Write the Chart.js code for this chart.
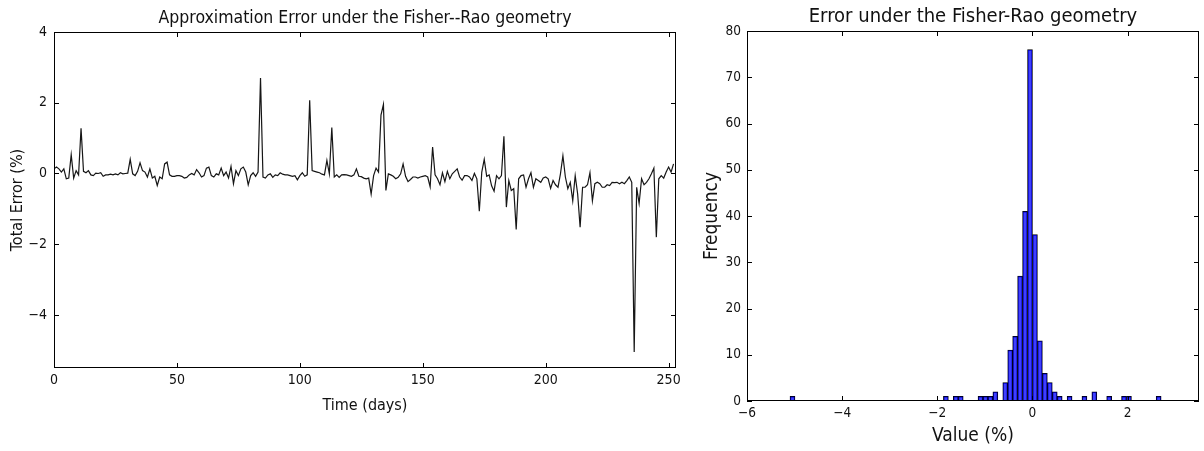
<!DOCTYPE html>
<html>
<head>
<meta charset="utf-8">
<script src="https://cdn.jsdelivr.net/npm/chart.js@4.4.1/dist/chart.umd.min.js"></script>
<style>
  body { margin: 0; background: #fff; }
  #wrap { position: relative; width: 1204px; height: 451px; }
  canvas { position: absolute; top: 0; }
  #lineChart { left: 0; }
  #histChart { left: 690px; }
</style>
</head>
<body>
<div id="wrap">
  <canvas id="lineChart" width="690" height="451"></canvas>
  <canvas id="histChart" width="514" height="451"></canvas>
</div>
<script>
// total error per day (%), days 0..252
const errorSeries = [
  0.13, 0.18, 0.13, 0.04, 0.13, -0.15, -0.13, 0.53, -0.13, 0.08,
  -0.04, 1.28, 0.06, 0.02, 0.08, -0.04, -0.06, 0.01, 0.00, 0.02,
  -0.08, -0.04, -0.04, -0.02, -0.04, -0.01, -0.04, 0.02, -0.01, 0.00,
  0.01, 0.40, -0.01, -0.06, 0.06, 0.30, 0.08, 0.04, -0.10, 0.13,
  -0.13, -0.08, -0.34, -0.10, -0.15, 0.27, 0.32, -0.04, -0.08, -0.08,
  -0.06, -0.06, -0.08, -0.13, -0.11, -0.04, 0.00, -0.04, 0.11, 0.02,
  -0.10, -0.06, 0.15, 0.18, -0.06, -0.10, -0.01, -0.04, 0.15, -0.06,
  0.04, -0.13, 0.20, -0.29, 0.08, -0.06, 0.13, 0.18, 0.04, -0.32,
  -0.06, 0.02, -0.08, 0.04, 2.70, -0.10, -0.13, -0.04, -0.01, -0.11,
  -0.04, -0.06, 0.02, -0.02, -0.04, -0.04, -0.06, -0.08, -0.06, -0.18,
  -0.06, 0.02, -0.08, -0.04, 2.07, 0.08, 0.06, 0.04, 0.02, -0.02,
  -0.04, 0.37, -0.01, 1.30, -0.10, -0.04, -0.11, -0.04, -0.03, -0.04,
  -0.06, -0.08, -0.04, 0.13, -0.08, -0.09, -0.13, -0.15, -0.13, -0.58,
  -0.06, 0.15, 0.04, 1.65, 1.95, -0.48, -0.01, -0.04, -0.08, -0.15,
  -0.11, -0.01, 0.27, -0.08, -0.23, -0.17, -0.10, -0.10, -0.13, -0.10,
  -0.08, -0.06, -0.10, -0.38, 0.75, -0.04, -0.15, -0.32, 0.02, -0.23,
  0.06, -0.15, -0.01, 0.06, 0.13, -0.10, -0.19, -0.06, -0.06, -0.10,
  -0.20, 0.00, -0.15, -1.07, 0.04, 0.40, -0.08, -0.04, -0.35, -0.50,
  -0.06, -0.15, -0.06, 1.05, -0.95, -0.20, -0.48, -0.43, -1.58, -0.15,
  -0.06, -0.04, -0.39, -0.15, 0.02, -0.39, -0.15, -0.20, -0.25, -0.13,
  -0.10, -0.15, -0.42, -0.20, -0.32, -0.39, -0.01, 0.50, -0.10, -0.43,
  -0.25, -0.77, -0.06, -0.58, -1.52, -0.39, -0.39, -0.32, 0.02, -0.77,
  -0.29, -0.25, -0.29, -0.39, -0.39, -0.32, -0.34, -0.25, -0.26, -0.25,
  -0.29, -0.25, -0.29, -0.20, -0.10, -0.25, -5.05, -0.39, -0.85, -0.15,
  -0.32, -0.25, -0.15, -0.01, 0.15, -1.80, -0.15, -0.06, -0.13, 0.04,
  0.18, 0.04, 0.27
];
const dayTicks = [0, 50, 100, 150, 200, 250];
const errorTicks = [-4, -2, 0, 2, 4];

// histogram: left edge of each non-empty bin, and its count
const binWidth = 0.104;
const binStart = [
  -5.096, -1.872, -1.664, -1.560, -1.144, -1.040, -0.936, -0.832, -0.624, -0.520,
  -0.416, -0.312, -0.208, -0.104, 0.000, 0.104, 0.208, 0.312, 0.416, 0.520,
  0.728, 1.040, 1.248, 1.560, 1.872, 1.976, 2.600
];
const binCount = [
  1, 1, 1, 1, 1, 1, 1, 2, 4, 11,
  14, 27, 41, 76, 36, 13, 6, 4, 2, 1,
  1, 1, 2, 1, 1, 1, 1
];
const valueTicks = [-6, -4, -2, 0, 2];
const freqTicks = [0, 10, 20, 30, 40, 50, 60, 70, 80];

const FONT = "'DejaVu Sans Condensed', 'DejaVu Sans', sans-serif";
const INK = '#111';
const minus = v => String(v).replace('-', '\u2212');

// frame, inward ticks on all four sides, and the title
const framePlugin = {
  id: 'frame',
  afterDraw(chart, args, opts) {
    const { ctx, chartArea: a, scales: { x, y } } = chart;
    ctx.save();
    ctx.strokeStyle = '#000';
    ctx.lineWidth = 1;
    ctx.strokeRect(Math.round(a.left) + 0.5, Math.round(a.top) + 0.5,
      Math.round(a.right - a.left) - 1, Math.round(a.bottom - a.top) - 1);
    ctx.beginPath();
    x.ticks.forEach(t => {
      const px = Math.round(x.getPixelForValue(t.value)) + 0.5;
      ctx.moveTo(px, a.bottom); ctx.lineTo(px, a.bottom - opts.len);
      ctx.moveTo(px, a.top); ctx.lineTo(px, a.top + opts.len);
    });
    y.ticks.forEach(t => {
      const py = Math.round(y.getPixelForValue(t.value)) + 0.5;
      ctx.moveTo(a.left, py); ctx.lineTo(a.left + opts.len, py);
      ctx.moveTo(a.right, py); ctx.lineTo(a.right - opts.len, py);
    });
    ctx.stroke();
    ctx.fillStyle = INK;
    ctx.font = opts.titleSize + 'px ' + FONT;
    ctx.textAlign = 'center';
    ctx.textBaseline = 'middle';
    ctx.fillText(opts.title, (a.left + a.right) / 2, opts.titleY);
    ctx.restore();
  }
};

function axis(min, max, ticks, size, tickSize, title, titleSize, titlePad, tickPad, fmt) {
  return {
    type: 'linear', min, max, offset: false,
    afterBuildTicks: s => { s.ticks = ticks.map(v => ({ value: v })); },
    afterFit: s => { if (s.isHorizontal()) s.height = size; else s.width = size; },
    grid: { display: false, drawTicks: false },
    border: { display: false },
    ticks: {
      padding: tickPad, autoSkip: false, maxRotation: 0, color: INK,
      font: { family: FONT, size: tickSize }, callback: fmt
    },
    title: {
      display: true, text: title, color: INK,
      font: { family: FONT, size: titleSize }, padding: titlePad
    }
  };
}

new Chart(document.getElementById('lineChart'), {
  type: 'line',
  data: {
    datasets: [{
      data: errorSeries.map((v, i) => ({ x: i, y: v })),
      borderColor: '#161616', borderWidth: 1.2, pointRadius: 0, tension: 0, fill: false
    }]
  },
  options: {
    responsive: false, animation: false, devicePixelRatio: 1,
    layout: { padding: { top: 32, right: 14, left: 0, bottom: 0 } },
    plugins: {
      legend: { display: false }, tooltip: { enabled: false },
      frame: { len: 5, title: 'Approximation Error under the Fisher--Rao geometry', titleSize: 17.5, titleY: 18 }
    },
    scales: {
      x: axis(0, 253, dayTicks, 83, 14, 'Time (days)', 16, { top: 0, bottom: 36 }, 4, v => minus(v)),
      y: axis(-5.5, 4, errorTicks, 54, 14, 'Total Error (%)', 16, { top: 8, bottom: 0 }, 7, v => minus(v))
    }
  },
  plugins: [framePlugin]
});

new Chart(document.getElementById('histChart'), {
  type: 'bar',
  data: {
    datasets: [{
      data: binStart.map((s, i) => ({ x: s + binWidth / 2, y: binCount[i] })),
      backgroundColor: 'rgba(0,0,255,0.75)', borderColor: '#000', borderWidth: 0.8,
      barPercentage: 1, categoryPercentage: 1
    }]
  },
  options: {
    responsive: false, animation: false, devicePixelRatio: 1,
    layout: { padding: { top: 31, right: 5, left: 0, bottom: 0 } },
    plugins: {
      legend: { display: false }, tooltip: { enabled: false },
      frame: { len: 5, title: 'Error under the Fisher-Rao geometry', titleSize: 20, titleY: 17 }
    },
    scales: {
      x: axis(-6, 3.5, valueTicks, 50, 13.5, 'Value (%)', 19, { top: 0, bottom: 4 }, 4, v => minus(v)),
      y: axis(0, 80, freqTicks, 57, 13.5, 'Frequency', 19, { top: 11, bottom: 0 }, 6, v => minus(v))
    }
  },
  plugins: [framePlugin]
});
</script>
</body>
</html>
